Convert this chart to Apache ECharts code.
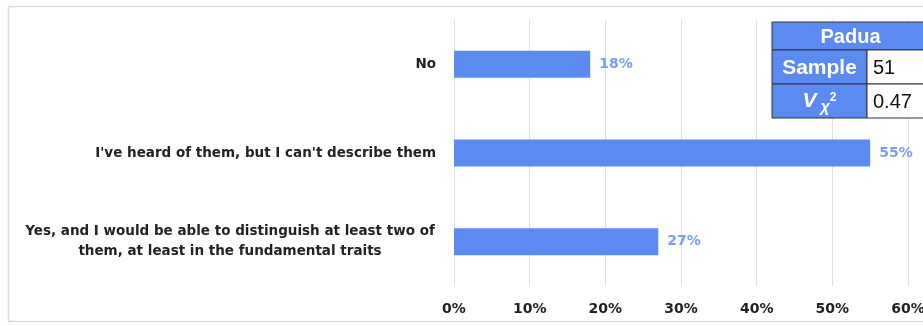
<!DOCTYPE html>
<html>
<head>
<meta charset="utf-8">
<script src="https://cdn.jsdelivr.net/npm/echarts@6/dist/echarts.min.js"></script>
<style>
  html, body { margin: 0; padding: 0; background: #fff; }
  #chart { width: 923px; height: 326px; }
</style>
</head>
<body>
<div id="chart"></div>
<script>
// Survey answers and their shares (percent)
const categories = [
  'No',
  "I've heard of them, but I can't describe them",
  'Yes, and I would be able to distinguish at least two of\nthem, at least in the fundamental traits'
];
const shares = [18, 55, 27];
const tickLabels = ['0%', '10%', '20%', '30%', '40%', '50%', '60%'];

// Summary table
const tableTitle = 'Padua';
const tableRows = [['Sample', '51'], ['V', '0.47']];

const blue = '#5b8bf0';
const labelFont = '"DejaVu Sans", sans-serif';
const tableFont = '"Liberation Sans", Arial, sans-serif';

const chart = echarts.init(document.getElementById('chart'));

const tX = 772, tY = 22, c1 = 95, c2 = 62, hH = 28, rH = 34;
const graphic = [
  { type: 'rect', shape: { x: 8.5, y: 6.5, width: 940, height: 315 },
    style: { fill: 'none', stroke: '#dcdcdc', lineWidth: 1.5 }, silent: true, z: 0 },
  { type: 'rect', shape: { x: tX, y: tY, width: c1 + c2, height: hH },
    style: { fill: blue, stroke: '#333', lineWidth: 1 }, z: 10 },
  { type: 'text', x: tX + (c1 + c2) / 2, y: tY + hH / 2 + 1,
    style: { text: tableTitle, fill: '#fff', font: 'bold 20px ' + tableFont,
             textAlign: 'center', textVerticalAlign: 'middle' }, z: 11 }
];
tableRows.forEach((row, i) => {
  const y = tY + hH + i * rH;
  graphic.push(
    { type: 'rect', shape: { x: tX, y: y, width: c1, height: rH },
      style: { fill: blue, stroke: '#333', lineWidth: 1 }, z: 10 },
    { type: 'rect', shape: { x: tX + c1, y: y, width: c2, height: rH },
      style: { fill: '#fff', stroke: '#333', lineWidth: 1 }, z: 10 }
  );
  if (row[0] === 'V') {
    graphic.push({ type: 'text', x: tX + c1 / 2, y: y + rH / 2,
      style: {
        text: '{v|V}{s|χ}{p|2}',
        textAlign: 'center', textVerticalAlign: 'middle',
        rich: {
          v: { fill: '#fff', font: 'italic bold 21px ' + tableFont, padding: [0, 4, 0, 0] },
          s: { fill: '#fff', font: 'italic bold 16px ' + tableFont, padding: [14, 0, 0, 0] },
          p: { fill: '#fff', font: 'bold 12px ' + tableFont, padding: [0, 0, 6, 0] }
        }
      }, z: 11 });
  } else {
    graphic.push({ type: 'text', x: tX + c1 / 2, y: y + rH / 2 + 1,
      style: { text: row[0], fill: '#fff', font: 'bold 21px ' + tableFont,
               textAlign: 'center', textVerticalAlign: 'middle' }, z: 11 });
  }
  graphic.push({ type: 'text', x: tX + c1 + 6, y: y + rH / 2 + 1,
    style: { text: row[1], fill: '#111', font: '20px ' + tableFont,
             textAlign: 'left', textVerticalAlign: 'middle' }, z: 11 });
});

chart.setOption({
  animation: false,
  backgroundColor: '#fff',
  grid: { left: 454, right: 15, top: 20, bottom: 40, containLabel: false,
          outerBoundsMode: 'none' },
  xAxis: {
    type: 'value', min: 0, max: 60, interval: 10,
    axisLine: { show: false }, axisTick: { show: false },
    splitLine: { show: true, lineStyle: { color: '#e0e0e0', width: 1 } },
    axisLabel: {
      margin: 16, color: '#222', fontFamily: labelFont, fontWeight: 'bold', fontSize: 14,
      hideOverlap: false,
      formatter: (v) => tickLabels[Math.round(v / 10)]
    }
  },
  yAxis: {
    type: 'category', data: categories, inverse: true,
    axisLine: { show: false }, axisTick: { show: false },
    axisLabel: {
      margin: 18, color: '#222', fontFamily: labelFont, fontWeight: 'bold', fontSize: 13.5,
      lineHeight: 20,
      formatter: (v) => v.indexOf('\n') >= 0 ? '{c|' + v + '}' : v,
      rich: { c: { width: 412, align: 'center', color: '#222', fontFamily: labelFont,
                   fontWeight: 'bold', fontSize: 13.5, lineHeight: 20 } }
    }
  },
  series: [{
    type: 'bar', data: shares, barWidth: 27,
    itemStyle: { color: blue },
    label: {
      show: true, position: 'right', distance: 9, color: '#7a9ee8',
      fontFamily: labelFont, fontWeight: 'bold', fontSize: 14,
      formatter: (p) => p.value + '%'
    }
  }],
  graphic: graphic
});
</script>
</body>
</html>
